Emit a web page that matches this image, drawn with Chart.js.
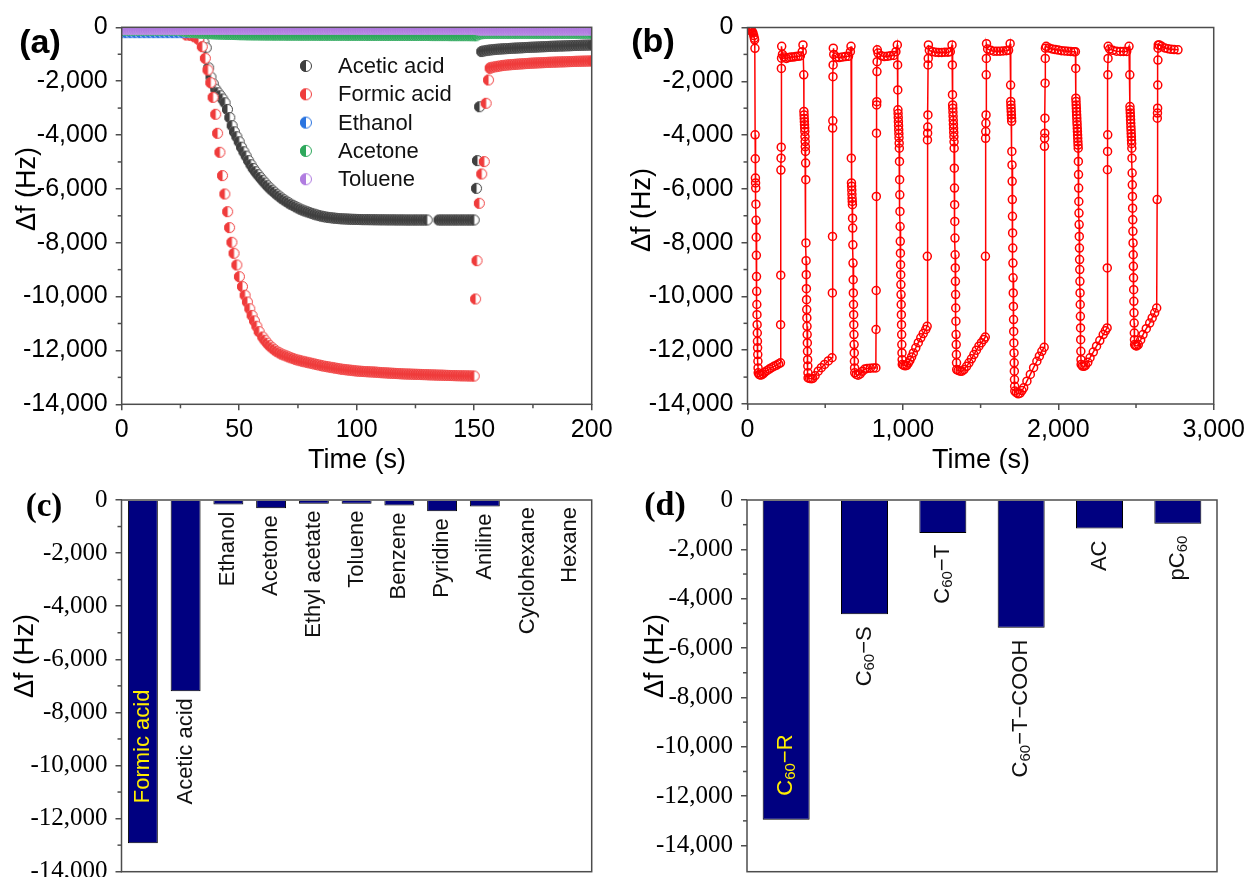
<!DOCTYPE html>
<html><head><meta charset="utf-8">
<script src="https://cdn.jsdelivr.net/npm/chart.js@4.4.1/dist/chart.umd.min.js"></script>
<style>
html,body{margin:0;padding:0;background:#fff;width:1250px;height:877px;overflow:hidden;position:relative;}
canvas{position:absolute;}
</style></head><body>
<canvas id="ca" width="625" height="480" style="left:0;top:0"></canvas>
<canvas id="cb" width="625" height="480" style="left:625px;top:0"></canvas>
<canvas id="cc" width="625" height="430" style="left:0;top:477px"></canvas>
<canvas id="cd" width="625" height="430" style="left:625px;top:477px"></canvas>
<script>
// ================= DATA =================
const dfTicks = [0,-2000,-4000,-6000,-8000,-10000,-12000,-14000];
const aTimeTicks = [0,50,100,150,200];
const bTimeTicks = [0,1000,2000,3000];

// ---- panel (a) ----
const aSeriesNames = ['Acetic acid','Formic acid','Ethanol','Acetone','Toluene'];
const aSeriesColors = ['#3f3f3f','#ef3b3b','#2a74e0','#2ea85c','#b07ce0'];

const t1 = [0,1,2,3,4,5,6,7,8,9,10,11,12,13,14,15,16,17,18,19,
20,21,22,23,24,25,26,27,28,29,30,31,32,33,34,35,36,37,38,39,
40,41,42,43,44,45,46,47,48,49,50,51,52,53,54,55,56,57,58,59,
60,61,62,63,64,65,66,67,68,69,70,71,72,73,74,75,76,77,78,79,
80,81,82,83,84,85,86,87,88,89,90,91,92,93,94,95,96,97,98,99,
100,101,102,103,104,105,106,107,108,109,110,111,112,113,114,115,116,117,118,119,
120,121,122,123,124,125,126,127,128,129,130,131,132,133,134,135,136,137,138,139,
140,141,142,143,144,145,146,147,148,149,150,151,152,153,154,155,156,157,158,159,
160,161,162,163,164,165,166,167,168,169,170,171,172,173,174,175,176,177,178,179,
180,181,182,183,184,185,186,187,188,189,190,191,192,193,194,195,196,197,198,199,200];

const t2 = [0,2,4,6,8,10,12,14,16,18,20,22,24,26,28,30,32,34,36,38,40,42,44,46,48,50,52,54,56,58,
60,62,64,66,68,70,72,74,76,78,80,82,84,86,88,90,92,94,96,98,100,102,104,106,108,110,112,114,116,118,
120,122,124,126,128,130,132,134,136,138,140,142,144,146,148,150,152,154,156,158,160,162,164,166,168,170,
172,174,176,178,180,182,184,186,188,190,192,194,196,198,200];

const ethanolDf = [-200,-200,-200,-200,-200,-200,-200,-200,-200,-200,
-200,-200,-200,-200,-200,-200,-200,-200,-200,-200,
-200,-200,-200,-200,-200,-200,-200,-200,-200,-200,
-200,-200,-200,-200,-200,-200,-200,-200,-200,-200,
-200,-200,-200,-200,-200,-200,-200,-200,-200,-200,
-200,-200,-200,-200,-200,-200,-200,-200,-200,-200,
-200,-200,-200,-200,-200,-200,-200,-200,-200,-200,
-200,-200,-200,-200,-200,-200,-200,-200,-200,-200,
-200,-200,-200,-200,-200,-200,-200,-200,-200,-200,
-200,-200,-200,-200,-200,-200,-200,-200,-200,-200,-200];

const acetoneDf = [-100,-100,-100,-100,-100,-100,-100,-100,-100,-100,
-100,-100,-100,-100,-100,-100,-100,-100,-100,-100,-100,-100,-100,-100,-100,-100,
-130,-145,-160,-172,-185,-192,-200,-208,-215,-220,-225,-230,-235,-239,-243,-247,-250,-253,-256,-259,-262,-265,-267,-269,
-271,-273,-274,-276,-277,-278,-279,-280,-281,-282,
-283,-284,-285,-285,-286,-286,-287,-287,-288,-288,
-289,-289,-290,-290,-290,-290,-291,-291,-291,-291,
-292,-292,-292,-292,-293,-293,-293,-293,-294,-294,
-294,-294,-295,-295,-295,-295,-296,-296,-296,-296,-297,
-297,-297,-297,-298,-298,-298,-298,-299,-299,-299,
-299,-300,-300,-300,-300,-301,-301,-301,-301,-302,
-302,-302,-302,-303,-303,-303,-303,-304,-304,-304,
-304,-305,-305,-305,-305,-306,-306,-306,-306,-307,
-307,-307,-307,-308,-308,-308,-309,-309,-310,-311,-312,
-260,-240,-232,-226,-223,-221,
-220,-220,-220,-220,-220,-220,-220,-220,-220,-220,
-220,-220,-220,-220,-220,-220,-220,-220,-220,-220,
-220,-220,-220,-220,-220,-220,-220,-220,-220,-220,
-220,-220,-220,-220,-220,-220,-220,-220,-220,-220,
-220,-220,-220];

const tolueneDf = [-70,-70,-70,-70,-70,-70,-70,-70,-70,-70,
-70,-70,-70,-70,-70,-70,-70,-70,-70,-70,
-70,-70,-70,-70,-70,-70,-70,-70,-70,-70,
-70,-70,-70,-70,-70,-70,-70,-70,-70,-70,
-70,-70,-70,-70,-70,-70,-70,-70,-70,-70,
-70,-70,-70,-70,-70,-70,-70,-70,-70,-70,
-70,-70,-70,-70,-70,-70,-70,-70,-70,-70,
-70,-70,-70,-70,-70,-70,-70,-70,-70,-70,
-70,-70,-70,-70,-70,-70,-70,-70,-70,-70,
-70,-70,-70,-70,-70,-70,-70,-70,-70,-70,
-70,-70,-70,-70,-70,-70,-70,-70,-70,-70,
-70,-70,-70,-70,-70,-70,-70,-70,-70,-70,
-70,-70,-70,-70,-70,-70,-70,-70,-70,-70,
-70,-70,-70,-70,-70,-70,-70,-70,-70,-70,
-70,-70,-70,-70,-70,-70,-70,-70,-70,-70,
-70,-70,
-100,-100,-100,-100,-100,-100,-100,-100,-100,-100,
-100,-100,-100,-100,-100,-100,-100,-100,-100,-100,
-100,-100,-100,-100,-100,-100,-100,-100,-100,-100,
-100,-100,-100,-100,-100,-100,-100,-100,-100,-100,
-100,-100,-100,-100,-100,-100,-100,-100,-100];

const aceticTime = [0,2,4,6,8,10,12,14,16,18,20,22,24,26,28,30,32,
33,34,35,36,37,38,39,40,41,42,43,44,45,46,47,48,49,50,51,52,53,54,55,56,57,58,59,60,
61,62,63,64,65,66,67,68,69,70,71,72,73,74,75,76,77,78,79,80,
81,82,83,84,85,86,87,88,89,90,91,92,93,94,95,96,97,98,99,100,
101,102,103,104,105,106,107,108,109,110,111,112,113,114,115,116,117,118,119,120,
121,122,123,124,125,126,127,128,129,
130,
135,136,137,138,139,140,141,142,143,144,145,146,147,148,149,150,
151.0,151.4,152.3,153.2,
154,155,156,157,158,159,160,161,162,163,164,165,166,167,168,169,170,171,172,173,
174,175,176,177,178,179,180,181,182,183,184,185,186,187,188,189,190,191,192,193,
194,195,196,197,198,199,200];
const aceticDf = [-150,-150,-150,-150,-150,-150,-150,-150,-150,-150,-150,-150,-150,-150,-150,-150,-150,
-250,-400,-560,-760,-1500,-1850,-2100,-2300,-2430,-2540,-2660,-2800,-3050,-3350,-3650,-3880,-4060,-4250,-4450,-4620,-4780,-4950,-5100,-5240,-5360,-5470,-5580,-5680,
-5780,-5880,-5965,-6050,-6125,-6200,-6270,-6340,-6400,-6460,
-6515,-6570,-6615,-6660,-6705,-6750,-6785,-6820,-6850,-6880,
-6910,-6940,-6965,-6990,-7010,-7030,-7045,-7060,-7070,-7080,
-7090,-7100,-7105,-7110,-7115,-7120,-7125,-7130,-7132,-7135,
-7137,-7138,-7140,-7141,-7142,-7143,-7144,-7145,-7146,-7147,
-7148,-7149,-7150,-7150,-7151,-7151,-7152,-7152,-7153,-7153,
-7154,-7154,-7154,-7155,-7155,-7155,-7155,-7155,-7155,
-7155,
-7155,-7155,-7155,-7155,-7155,-7155,-7155,-7155,-7155,-7155,-7155,-7155,-7155,-7155,-7155,-7155,
-5980,-4950,-2950,-900,
-880,-865,-850,-840,-830,-822,-815,-808,-800,-795,
-790,-785,-780,-775,-770,-765,-760,-755,-750,-746,
-742,-738,-734,-730,-726,-722,-718,-714,-710,-706,
-703,-700,-696,-693,-690,-687,-684,-681,-678,-675,
-672,-669,-666,-663,-660,-658,-655];

const formicTime = [0,2,4,6,8,10,12,14,16,18,20,22,24,26,
27.7,29.4,31,32.7,34.3,35.6,36.7,37.9,38.9,40,40.8,41.8,42.9,43.9,45.1,45.9,46.9,47.8,49,50.1,51.4,52.5,53.5,54.5,55.5,56.5,57.5,58.5,60,
61,62,63,64,65,66,67,68,69,70,71,72,73,74,75,76,77,78,79,80,
81,82,83,84,85,86,87,88,89,90,91,92,93,94,95,96,97,98,99,100,
101,102,103,104,105,106,107,108,109,110,111,112,113,114,115,116,117,118,119,120,
121,122,123,124,125,126,127,128,129,130,131,132,133,134,135,136,137,138,139,140,
141,142,143,144,145,146,147,148,149,150,
150.6,151.2,152.2,153.2,154.3,155.1,156.1,156.8,
157,158,159,160,161,162,163,164,165,166,167,168,169,170,171,172,173,174,175,176,
177,178,179,180,181,182,183,184,185,186,187,188,189,190,191,192,193,194,195,196,
197,198,199,200];
const formicDf = [-150,-150,-150,-150,-150,-150,-150,-150,-150,-150,-150,-150,-150,-150,
-286,-300,-350,-446,-718,-1151,-1584,-2055,-2600,-3231,-3936,-4642,-5508,-6189,-6845,-7439,-7984,-8392,-8825,-9259,-9630,-9950,-10200,-10450,-10700,-10900,-11100,-11300,-11500,
-11620,-11730,-11820,-11900,-11970,-12030,-12085,-12130,-12165,-12200,
-12235,-12270,-12300,-12330,-12355,-12380,-12400,-12420,-12440,-12460,
-12480,-12500,-12520,-12540,-12560,-12580,-12595,-12610,-12625,-12640,
-12655,-12670,-12685,-12700,-12710,-12720,-12730,-12740,-12750,-12760,
-12770,-12775,-12780,-12785,-12790,-12795,-12800,-12805,-12810,-12820,
-12825,-12830,-12835,-12840,-12845,-12850,-12855,-12860,-12865,-12870,
-12873,-12876,-12879,-12882,-12885,-12888,-12891,-12894,-12897,-12900,
-12903,-12906,-12909,-12912,-12915,-12918,-12921,-12924,-12927,-12930,
-12932,-12934,-12936,-12938,-12940,-12942,-12944,-12946,-12948,-12950,
-10088,-8665,-6536,-5446,-4988,-2822,-1956,-1523,
-1500,-1480,-1465,-1450,-1435,-1420,-1410,-1400,-1392,-1385,
-1378,-1370,-1364,-1358,-1352,-1346,-1340,-1335,-1330,-1325,
-1320,-1316,-1312,-1308,-1304,-1300,-1296,-1293,-1290,-1286,
-1283,-1280,-1277,-1274,-1271,-1268,-1265,-1262,-1260,-1257,
-1254,-1252,-1250,-1247];

// ---- panel (b) : cycling test ----
const bTime = [
0,5,10,15,20,25,30,35,40,44,46,
48,49,50,51,52,53,54,55,56,57,58,59,60,61,62,63,64,65,66,67,68,69,
75,80,90,100,110,125,140,155,170,185,200,212,
213,214,215,216,217,218,219,220,
225,235,250,265,280,295,310,325,340,352,357,
362,363,364,365,366,367,368,369,370,371,372,373,374,375,376,377,378,379,380,381,382,383,384,385,386,387,388,389,390,
400,410,420,435,455,475,496,520,544,
546,547,548,549,550,551,552,
555,570,590,610,630,650,662,666,
668,669,670,671,672,673,674,675,676,677,678,679,680,681,682,683,684,685,686,687,688,689,690,
700,712,725,740,755,770,790,810,826,
827,828,829,830,831,832,833,834,835,
840,860,880,900,920,940,955,964,
966,967,968,969,970,971,972,973,974,975,976,977,978,979,980,981,982,983,984,985,986,987,988,989,990,991,992,993,994,995,996,
1005,1015,1025,1035,1045,1056,1067,1083,1099,1115,1131,1147,1156,
1157,1158,1159,1160,1161,1162,1163,1164,
1170,1190,1210,1230,1250,1270,1290,1305,1316,
1318,1319,1320,1321,1322,1323,1324,1325,1326,1327,1328,1329,1330,1331,1332,1333,1334,1335,1336,1337,1338,1339,1340,1341,1342,1343,1344,1345,1346,
1355,1368,1380,1393,1410,1425,1441,1457,1473,1489,1505,1521,1530,
1531,1532,1533,1534,1535,1536,1537,1538,
1545,1565,1585,1605,1625,1645,1665,1680,1690,
1693,1694,1695,1696,1697,1698,1699,1700,1701,1702,1703,1704,1705,1706,1707,1708,1709,1710,1711,1712,1713,1714,1715,1716,1717,1718,1719,1720,
1730,1742,1754,1766,1777,1798,1820,1841,1862,1878,1894,1909,
1911,1912,1913,1914,1915,1916,1917,
1922,1940,1960,1980,2000,2020,2040,2060,2080,2100,2110,
2112,2113,2114,2115,2116,2117,2118,2119,2120,2121,2122,2123,2124,2125,2126,2127,2128,2129,2130,2131,2132,2133,2134,2135,2136,2137,2138,2139,2140,2141,2142,2143,2144,2145,2146,2147,
2155,2165,2175,2190,2204,2225,2246,2267,2289,2303,2314,
2315,2316,2317,2318,2319,2320,2321,
2330,2350,2375,2400,2420,2440,2455,
2460,2461,2462,2463,2464,2465,2466,2467,2468,2469,2470,2471,2472,2473,2474,2475,2476,2477,2478,2479,2480,2481,2482,2483,2484,2485,2486,2487,2488,2489,2490,2491,
2497,2505,2515,2530,2545,2566,2588,2604,2620,2633,
2636,2637,2638,2639,2640,2641,2642,2643,
2650,2665,2685,2705,2725,2745,2770];
const bDf = [
-20,-40,-60,-80,-100,-120,-150,-200,-300,-400,-460,
-774,-3990,-4880,-5600,-5780,-5970,-6570,-7170,-7800,-8470,-9260,-9810,-10300,-10680,-11050,-11360,-11670,-11910,-12160,-12410,-12660,-12840,
-12900,-12920,-12920,-12880,-12820,-12760,-12700,-12650,-12600,-12560,-12510,-12470,
-11050,-9210,-5300,-4860,-4450,-1520,-1140,-700,
-1000,-1100,-1150,-1120,-1100,-1100,-1080,-1070,-1060,-900,-650,
-1760,-3120,-3250,-3380,-3500,-3620,-3740,-3870,-4060,-4240,-4430,-4610,-5040,-5660,-8010,-8670,-9190,-9710,-10120,-10490,-10800,-11110,-11420,-11730,-12040,-12350,-12590,-12840,-13030,
-13050,-13060,-13050,-12950,-12780,-12650,-12530,-12400,-12280,
-9870,-7770,-3740,-3470,-1830,-1390,-770,
-1000,-1100,-1120,-1100,-1080,-1070,-900,-700,
-4860,-5780,-5900,-6050,-6200,-6350,-6470,-6590,-7090,-7460,-8080,-8760,-9380,-9870,-10300,-10680,-11050,-11420,-11790,-12100,-12410,-12660,-12840,
-12900,-12930,-12880,-12780,-12700,-12680,-12670,-12660,-12660,
-11230,-9780,-6280,-3930,-2880,-2760,-1640,-1270,-830,
-950,-1050,-1080,-1070,-1050,-1040,-900,-650,
-1390,-2320,-3060,-3200,-3350,-3500,-3650,-3800,-3950,-4100,-4300,-4490,-4980,-5660,-6220,-6840,-7400,-7950,-8390,-8820,-9190,-9560,-9930,-10300,-10680,-11050,-11420,-11790,-12100,-12350,-12530,
-12560,-12580,-12560,-12480,-12380,-12250,-12100,-11910,-11720,-11540,-11380,-11230,-11110,
-8510,-4180,-3930,-3700,-3250,-1390,-1150,-650,
-850,-900,-920,-930,-930,-920,-920,-900,-650,
-1390,-2500,-2880,-3000,-3150,-3300,-3450,-3600,-3750,-3900,-4060,-4250,-4490,-5230,-5970,-6590,-7210,-7830,-8450,-8940,-9440,-9930,-10430,-10920,-11420,-11790,-12160,-12470,-12720,
-12750,-12780,-12780,-12720,-12600,-12470,-12320,-12160,-12000,-11850,-11720,-11600,-11510,
-8510,-4120,-3870,-3560,-3250,-1760,-1150,-600,
-800,-850,-880,-880,-880,-870,-860,-850,-600,
-2140,-2750,-2880,-3000,-3120,-3250,-3370,-3490,-4610,-5110,-5720,-6400,-7020,-7640,-8200,-8760,-9310,-9870,-10370,-10860,-11300,-11730,-12100,-12470,-12780,-13090,-13340,-13520,
-13580,-13620,-13600,-13500,-13400,-13150,-12900,-12650,-12410,-12220,-12040,-11890,
-4420,-4120,-3930,-3370,-2070,-1150,-770,
-700,-760,-800,-820,-840,-860,-870,-880,-890,-900,-900,
-1520,-2630,-2750,-2880,-3000,-3120,-3250,-3370,-3500,-3620,-3750,-3870,-4000,-4120,-4250,-4370,-4490,-4980,-5470,-5970,-6470,-6900,-7330,-7770,-8200,-8630,-9000,-9440,-9870,-10300,-10740,-11170,-11610,-12040,-12350,-12530,
-12590,-12600,-12560,-12450,-12280,-12070,-11850,-11640,-11420,-11280,-11170,
-8940,-5290,-4610,-3990,-1760,-1150,-700,
-800,-850,-880,-890,-890,-890,-700,
-1760,-2940,-3060,-3180,-3300,-3430,-3560,-3690,-3810,-3940,-4060,-4190,-4320,-4490,-4860,-5410,-5850,-6280,-6720,-7150,-7580,-8010,-8450,-8880,-9310,-9750,-10180,-10610,-10990,-11360,-11610,-11790,
-11830,-11840,-11790,-11620,-11420,-11200,-10990,-10800,-10610,-10430,
-6400,-3370,-3180,-3000,-2140,-1210,-770,-650,
-650,-700,-760,-790,-810,-820,-830];

// ---- panel (c) : vapours ----
const cCategories = ['Formic acid','Acetic acid','Ethanol','Acetone','Ethyl acetate','Toluene','Benzene','Pyridine','Aniline','Cyclohexane','Hexane'];
const cDf = [-12930,-7200,-174,-311,-137,-137,-211,-423,-248,0,0];

// ---- panel (d) : materials ----
const dCategories = ['C60\u2212R','C60\u2212S','C60\u2212T','C60\u2212T\u2212COOH','AC','pC60'];
const dDf = [-12955,-4630,-1333,-5175,-1157,-958];

// ================= RENDERING =================
function check(a,b,n){ if(a.length!==b.length) throw new Error('length mismatch '+n+': '+a.length+' vs '+b.length); }
check(t1,acetoneDf,'acetone'); check(t1,tolueneDf,'toluene'); check(t2,ethanolDf,'ethanol');
check(aceticTime,aceticDf,'acetic'); check(formicTime,formicDf,'formic'); check(bTime,bDf,'b');

const SANS = "'Liberation Sans', Arial, Helvetica, sans-serif";
const SERIF = "'Liberation Serif', 'Times New Roman', serif";
const AXIS = '#4d4d4d';
Chart.defaults.font.family = SANS;
Chart.defaults.color = '#000';
const fmt = v => Number(v).toLocaleString('en-US');
const pairs = (xs,ys) => xs.map((x,i)=>({x:x,y:ys[i]}));

function halfMarker(color, d){
  const s = d+2, c = document.createElement('canvas'); c.width = s; c.height = s;
  const g = c.getContext('2d'), r = d/2, cx = s/2, cy = s/2;
  g.beginPath(); g.arc(cx,cy,r,0,2*Math.PI); g.fillStyle='#fff'; g.fill();
  g.beginPath(); g.moveTo(cx,cy-r); g.arc(cx,cy,r,-Math.PI/2,Math.PI/2,true); g.closePath(); g.fillStyle=color; g.fill();
  g.beginPath(); g.arc(cx,cy,r-0.5,0,2*Math.PI); g.strokeStyle=color; g.lineWidth=1; g.stroke();
  return c;
}

function gridOpts(){ return {drawOnChartArea:false, drawTicks:true, tickLength:6, color:AXIS, lineWidth:1.5}; }
function dfAxis(width, fontFamily, size, minV){
  return {type:'linear', min:minV, max:0,
    ticks:{font:{family:fontFamily,size:size}, padding:8, color:'#000', callback:fmt},
    afterBuildTicks: s => { s.ticks = dfTicks.map(v=>({value:v})); },
    grid:gridOpts(), border:{display:false},
    afterFit: s => { s.width = width; }};
}
function timeAxis(maxV, height, ticksArr){
  return {type:'linear', min:0, max:maxV,
    ticks:{font:{size:25}, padding:5, color:'#000', callback:fmt, maxRotation:0, autoSkip:false},
    afterBuildTicks: s => { s.ticks = ticksArr.map(v=>({value:v})); },
    grid:gridOpts(), border:{display:false},
    afterFit: s => { s.height = height; }};
}

function drawFrame(ctx,a){ ctx.save(); ctx.strokeStyle=AXIS; ctx.lineWidth=1.5; ctx.strokeRect(a.left,a.top,a.right-a.left,a.bottom-a.top); ctx.restore(); }
function drawMinor(ctx, scale, a, axis){
  const t = scale.ticks.map(k=>k.value).sort((p,q)=>p-q);
  ctx.save(); ctx.strokeStyle=AXIS; ctx.lineWidth=1.5;
  for(let i=0;i<t.length-1;i++){
    const p = scale.getPixelForValue((t[i]+t[i+1])/2);
    ctx.beginPath();
    if(axis==='y'){ ctx.moveTo(a.left-4,p); ctx.lineTo(a.left,p); }
    else { ctx.moveTo(p,a.bottom); ctx.lineTo(p,a.bottom+4); }
    ctx.stroke();
  }
  ctx.restore();
}
function txt(ctx,s,x,y,font,color){ ctx.save(); ctx.font=font; ctx.fillStyle=color||'#000'; ctx.textAlign='center'; ctx.textBaseline='middle'; ctx.fillText(s,x,y); ctx.restore(); }
function vtxt(ctx,s,x,y,font){ ctx.save(); ctx.translate(x,y); ctx.rotate(-Math.PI/2); ctx.font=font; ctx.fillStyle='#000'; ctx.textAlign='center'; ctx.textBaseline='middle'; ctx.fillText(s,0,0); ctx.restore(); }

function decor(o){
  return {id:'decor', afterDraw(chart){
    const ctx=chart.ctx, a=chart.chartArea;
    drawFrame(ctx,a);
    drawMinor(ctx, chart.scales.y, a, 'y');
    if(o.xMinor) drawMinor(ctx, chart.scales.x, a, 'x');
    if(o.legend){
      chart.data.datasets.forEach((ds,i)=>{
        const y = o.legend.y0 + o.legend.dy*i;
        const m = o.legend.markers[i];
        ctx.drawImage(m, o.legend.x - m.width/2, y - m.height/2);
        ctx.save(); ctx.font='22px '+SANS; ctx.fillStyle='#111'; ctx.textAlign='left'; ctx.textBaseline='middle';
        ctx.fillText(ds.label, o.legend.tx, y+1); ctx.restore();
      });
    }
    txt(ctx,o.panel,o.px,o.py,o.pfont);
    if(o.xtitle) txt(ctx,o.xtitle,o.xtx,o.xty,'27px '+SANS);
    vtxt(ctx,'\u0394f (Hz)',o.ytx,o.yty,'27px '+SANS);
  }};
}

// rotated bar labels with numeric subscripts
function richParts(s){ return s.split(/(\d+)/).filter(p=>p.length); }
function richWidth(ctx,s,size,sub){
  let w=0; richParts(s).forEach(p=>{ const d=/^\d+$/.test(p); ctx.font=(d?sub:size)+'px '+SANS; w+=ctx.measureText(p).width; }); return w;
}
function drawRich(ctx,s,x,y,align,color,size,sub){
  const parts = richParts(s);
  const total = richWidth(ctx,s,size,sub);
  ctx.save(); ctx.translate(x,y); ctx.rotate(-Math.PI/2);
  ctx.fillStyle=color; ctx.textAlign='left'; ctx.textBaseline='middle';
  let cx = align==='end' ? -total : 0;
  parts.forEach(p=>{ const d=/^\d+$/.test(p); ctx.font=(d?sub:size)+'px '+SANS; ctx.fillText(p,cx,d?5:0); cx+=ctx.measureText(p).width; });
  ctx.restore();
}
function barLabels(o){
  return {id:'barLabels', afterDatasetsDraw(chart){
    const ctx=chart.ctx, a=chart.chartArea, meta=chart.getDatasetMeta(0);
    chart.data.labels.forEach((lab,i)=>{
      const el = meta.data[i];
      const w = richWidth(ctx,lab,o.size,o.sub);
      if(el.y + o.gap + w <= a.bottom) drawRich(ctx,lab,el.x,el.y+o.gap,'end','#111',o.size,o.sub);
      else drawRich(ctx,lab,el.x,el.y-o.inside,'start','#ffee00',o.size,o.sub);
    });
  }};
}

const common = {responsive:false, animation:false, devicePixelRatio:1, events:[],
  plugins:{legend:{display:false}, tooltip:{enabled:false}}};

// ---- (a) ----
const aData = [pairs(aceticTime,aceticDf), pairs(formicTime,formicDf), pairs(t2,ethanolDf), pairs(t1,acetoneDf), pairs(t1,tolueneDf)];
const aOrder = [4,3,2,1,0];
const aDatasets = aSeriesNames.map((n,i)=>({label:n, data:aData[i], showLine:false,
  pointStyle:halfMarker(aSeriesColors[i],11), pointRadius:5.5, order:aOrder[i], clip:0}));
new Chart(document.getElementById('ca'), {
  type:'scatter', data:{datasets:aDatasets},
  options:Object.assign({}, common, {
    layout:{padding:{top:27.3,right:33.3,bottom:0,left:0}},
    scales:{x:timeAxis(200,75.7,aTimeTicks), y:dfAxis(121.7,SANS,25,-14000)}
  }),
  plugins:[decor({xMinor:true, panel:'(a)', px:40, py:44, pfont:'bold 34px '+SANS,
    xtitle:'Time (s)', xtx:357, xty:461, ytx:28, yty:189,
    legend:{x:306, y0:66, dy:28.3, tx:338, markers:aSeriesColors.map(c=>halfMarker(c,12))}})]
});

// ---- (b) ----
new Chart(document.getElementById('cb'), {
  type:'scatter',
  data:{datasets:[{label:'cycles', data:pairs(bTime,bDf), showLine:true, borderColor:'#ff0000', borderWidth:1.5,
    pointStyle:'circle', pointRadius:4, pointBorderColor:'#ff0000', pointBackgroundColor:'rgba(255,255,255,0)',
    pointBorderWidth:1.5, tension:0, clip:0}]},
  options:Object.assign({}, common, {
    layout:{padding:{top:27.5,right:34,bottom:0,left:0}},
    scales:{x:timeAxis(3000,76,bTimeTicks), y:dfAxis(122.5,SANS,25,-14000)}
  }),
  plugins:[decor({xMinor:true, panel:'(b)', px:28, py:43, pfont:'bold 34px '+SANS,
    xtitle:'Time (s)', xtx:356, xty:461, ytx:18, yty:210})]
});

// ---- (c) ----
new Chart(document.getElementById('cc'), {
  type:'bar',
  data:{labels:cCategories, datasets:[{data:cDf, backgroundColor:'#000080', borderColor:'#000', borderWidth:1,
    barPercentage:0.7, categoryPercentage:1}]},
  options:Object.assign({}, common, {
    layout:{padding:{top:17.3,right:33.3,bottom:35.3,left:0}},
    scales:{x:{display:false}, y:dfAxis(121.5,SERIF,25,-14000)}
  }),
  plugins:[barLabels({size:22, sub:15, gap:7, inside:40}),
    decor({panel:'(c)', px:44, py:30, pfont:'bold 33px '+SERIF, ytx:26, yty:179})]
});

// ---- (d) ----
new Chart(document.getElementById('cd'), {
  type:'bar',
  data:{labels:dCategories, datasets:[{data:dDf, backgroundColor:'#000080', borderColor:'#000', borderWidth:1,
    barPercentage:0.6, categoryPercentage:1}]},
  options:Object.assign({}, common, {
    layout:{padding:{top:17.3,right:33,bottom:35.3,left:0}},
    scales:{x:{display:false}, y:dfAxis(122,SERIF,25,-15060)}
  }),
  plugins:[barLabels({size:22, sub:15, gap:12, inside:24}),
    decor({panel:'(d)', px:40, py:29, pfont:'bold 34px '+SERIF, ytx:31, yty:179})]
});
</script>
</body></html>
